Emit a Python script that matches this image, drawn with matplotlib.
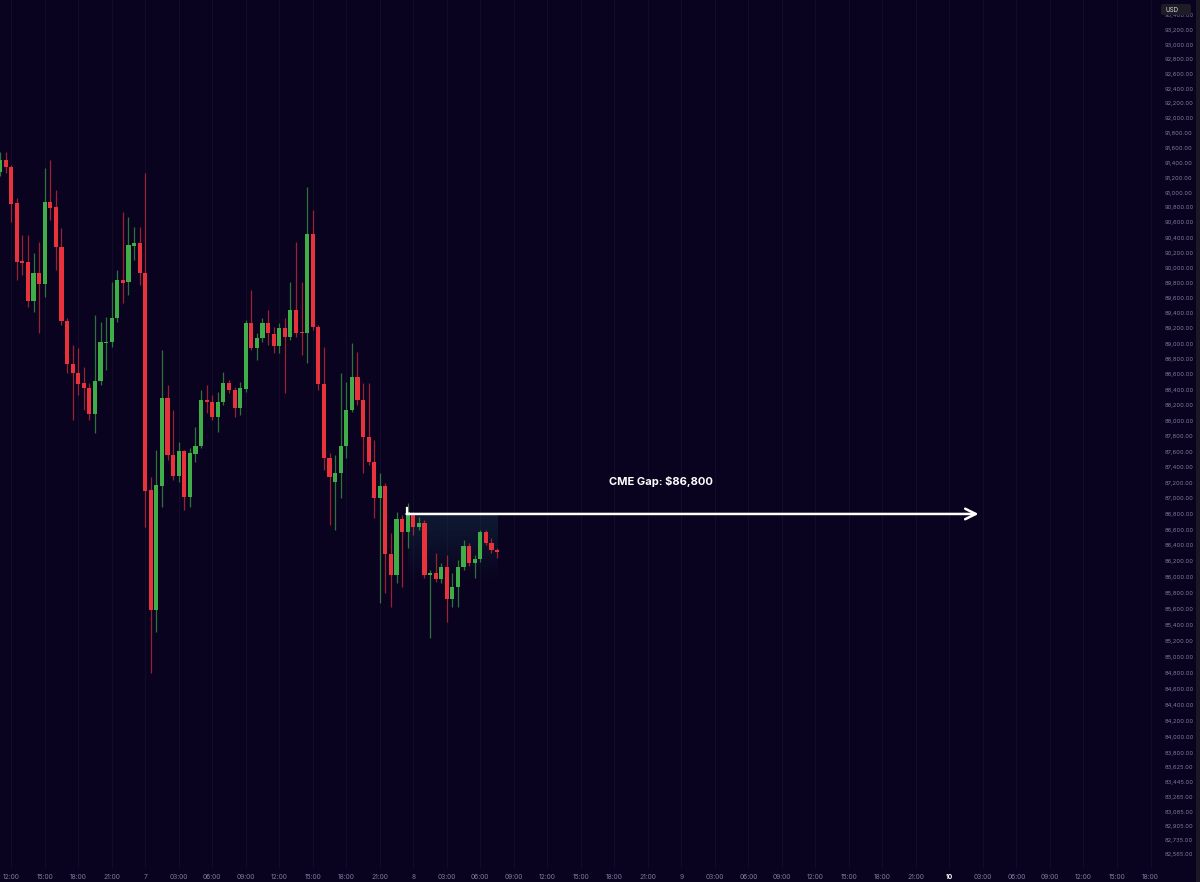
import numpy as np
import matplotlib
matplotlib.use('Agg')
import matplotlib.pyplot as plt

# 30-minute BTC candles, first one at day 6 11:00 (x axis = hours since day 6 00:00)
t_start = 11.0
t_step = 0.5

opens = [91280, 91430, 91340, 90860, 90090, 90080, 89560, 89930, 89790, 90870,
         90810, 90270, 89300, 88740, 88620, 88490, 88420, 88090, 88510, 89010,
         89020, 89340, 89840, 89810, 90290, 90330, 89930, 87110, 85580, 87160,
         88290, 87560, 87290, 87610, 87020, 87570, 87670, 88270, 88240, 88050,
         88240, 88490, 88400, 88160, 88410, 89270, 88940, 89080, 89270, 89130,
         88970, 89210, 89090, 89440, 89150, 89140, 90450, 89220, 88480, 87520,
         87210, 87320, 87670, 88140, 88570, 88270, 87790, 87470, 87000, 87160,
         86290, 86020, 86740, 86570, 86790, 86630, 86690, 86020, 86050, 85980,
         86130, 85720, 85870, 86130, 86390, 86180, 86230, 86570, 86430, 86340]
highs = [91540, 91540, 91370, 90930, 90430, 90430, 90190, 90340, 91330, 91440,
         91030, 90530, 89340, 88980, 88950, 88700, 88490, 89380, 89290, 89350,
         89810, 89970, 90740, 90670, 90540, 90540, 91260, 87270, 87620, 88920,
         88460, 88140, 87720, 87620, 87650, 87920, 88400, 88460, 88330, 88370,
         88630, 88530, 88440, 88500, 89310, 89710, 89140, 89340, 89440, 89220,
         89270, 89340, 89810, 90340, 89810, 91070, 90770, 89250, 88960, 87580,
         87560, 88620, 88500, 89010, 88890, 88490, 88490, 87750, 87320, 87200,
         86560, 86830, 86790, 86940, 86830, 86760, 86720, 86090, 86300, 86180,
         86280, 86050, 86210, 86470, 86430, 86280, 86600, 86600, 86490, 86370]
lows = [91220, 91260, 90610, 89840, 89900, 89480, 89420, 89140, 89610, 90630,
        89970, 89250, 88620, 88010, 88330, 88140, 88010, 87840, 88460, 88660,
        88960, 89290, 89530, 89640, 90100, 89770, 86630, 84790, 85310, 86890,
        87490, 87230, 87210, 86850, 86890, 87470, 87650, 88100, 88010, 87850,
        88200, 88360, 88050, 88070, 88370, 88920, 88790, 89020, 88980, 88880,
        88880, 88360, 89050, 89090, 88850, 88750, 89180, 88400, 87360, 86660,
        86600, 87000, 87520, 88110, 88200, 87320, 87430, 86750, 85670, 85800,
        85620, 85920, 85870, 86370, 86530, 86600, 85990, 85230, 85940, 85920,
        85430, 85620, 85620, 86090, 86140, 85990, 86190, 86410, 86300, 86240]
closes = [91440, 91340, 90850, 90080, 90060, 89560, 89930, 89790, 90870, 90790,
          90270, 89300, 88740, 88620, 88480, 88420, 88090, 88510, 89020, 89020,
          89340, 89840, 89800, 90300, 90330, 89930, 87090, 85580, 87170, 88290,
          87560, 87290, 87610, 87020, 87580, 87670, 88270, 88240, 88050, 88240,
          88490, 88400, 88160, 88420, 89270, 88940, 89080, 89270, 89140, 88970,
          89210, 89090, 89440, 89140, 89140, 90450, 89220, 88480, 87520, 87270,
          87320, 87670, 88140, 88570, 88270, 87790, 87470, 87000, 87160, 86290,
          86020, 86740, 86570, 86830, 86630, 86690, 86020, 86050, 85980, 86130,
          85720, 85870, 86130, 86390, 86180, 86230, 86570, 86430, 86340, 86320]

price_ticks = [93400, 93200, 93000, 92800, 92600, 92400, 92200, 92000, 91800, 91600,
               91400, 91200, 91000, 90800, 90600, 90400, 90200, 90000, 89800, 89600,
               89400, 89200, 89000, 88800, 88600, 88400, 88200, 88000, 87800, 87600,
               87400, 87200, 87000, 86800, 86600, 86400, 86200, 86000, 85800, 85600,
               85400, 85200, 85000, 84800, 84600, 84400, 84200, 84000, 83800, 83625,
               83445, 83265, 83085, 82905, 82735, 82565]

gap_price = 86800
gap_label = 'CME Gap: $86,800'

# %%
bg = '#09031f'
up_col = '#3fae49'
dn_col = '#e8323c'
lbl_col = '#7f7b99'
fam = ['Inter', 'DejaVu Sans']

t = t_start + t_step*np.arange(len(opens))
o = np.array(opens, float); c = np.array(closes, float)
h = np.array(highs, float); l = np.array(lows, float)
cols = np.where(c >= o, up_col, dn_col)

fig = plt.figure(figsize=(12, 8.82), dpi=100, facecolor=bg)
ax = fig.add_axes([0, 14/882, 1158/1200, 868/882], facecolor=bg)
ax.set_yscale('log')

# vertical grid on the time ticks
xt = np.arange(12, 115, 3)
for x in xt:
    ax.axvline(x, color='#120e2a', lw=0.7, zorder=0)

# candles
ax.vlines(t, l, h, colors=cols, lw=0.9, alpha=0.65, zorder=2)
body = np.maximum(np.abs(c-o), 14)
ax.bar(t, body, bottom=np.minimum(o, c), width=0.37, color=cols, lw=0, zorder=3)

# shaded gap zone (fades downward)
g0, g1 = 47.5, 55.6
edges = np.linspace(gap_price, 85950, 25)
for k in range(len(edges)-1):
    a = 0.32*(1-k/(len(edges)-1))
    ax.fill_between([g0, g1], edges[k+1], edges[k], color='#1d4a5c', alpha=a, lw=0, zorder=1)

# gap line with arrow
ax.annotate('', xy=(98.6, gap_price), xytext=(47.4, gap_price),
            arrowprops=dict(arrowstyle='->', color='white', lw=1.8, mutation_scale=19,
                            shrinkA=0, shrinkB=0), zorder=5)
ax.plot([47.45, 47.45], [gap_price, 86880], color='white', lw=1.6, zorder=5)
ax.text(70.2, 87210, gap_label, color='white', fontsize=8, fontweight='bold',
        family=fam, ha='center', va='center', zorder=6)

ax.set_xlim(11, 11 + 1158/11.17)
ax.set_ylim(82398, 93612)

# price axis
ax.yaxis.tick_right()
ax.yaxis.set_minor_locator(matplotlib.ticker.NullLocator())
ax.set_yticks(price_ticks)
ax.set_yticklabels(['{:,.2f}'.format(p) for p in price_ticks])
ax.tick_params(axis='y', length=0, pad=4.5, labelsize=4.2, labelcolor=lbl_col)

# time axis
xl = []
for x in xt:
    if x % 24 == 0:
        xl.append(str(6 + x//24))
    else:
        xl.append('%02d:00' % (x % 24))
ax.set_xticks(xt)
ax.set_xticklabels(xl)
ax.tick_params(axis='x', length=0, pad=4, labelsize=4.8, labelcolor=lbl_col)
for tl in ax.get_xticklabels():
    tl.set_family(fam)
    if tl.get_text() == '10':
        tl.set_color('white'); tl.set_fontweight('bold')
for tl in ax.get_yticklabels():
    tl.set_family(fam)

for s in ax.spines.values():
    s.set_visible(False)

# currency tag top right
fig.patches.append(matplotlib.patches.FancyBboxPatch(
    (1161/1200, 1-15/882), 30/1200, 11/882, boxstyle='round,pad=0,rounding_size=0.002',
    transform=fig.transFigure, facecolor='#1e1c24', edgecolor='none', zorder=10))
fig.text(1166/1200, 1-9.5/882, 'USD', color='#d8d6e0', fontsize=4.5, va='center',
         family=fam, zorder=11)
# right border strip
fig.patches.append(matplotlib.patches.Rectangle((1196/1200, 0), 4/1200, 1,
                   transform=fig.transFigure, facecolor='#1a1824', edgecolor='none'))

fig.savefig('out.png', dpi=100, facecolor=bg)
